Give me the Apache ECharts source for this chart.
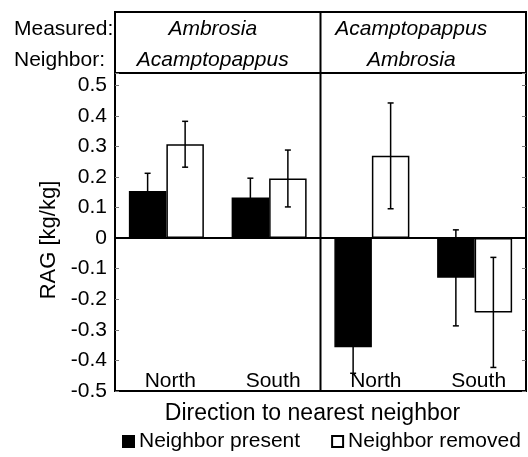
<!DOCTYPE html>
<html><head><meta charset="utf-8">
<script src="https://cdn.jsdelivr.net/npm/echarts@6/dist/echarts.min.js"></script>
<style>html,body{margin:0;padding:0;background:#fff}#c{width:528px;height:457px}</style>
</head><body><div id="c"></div>
<script>
// ---- data ----
const categories = ['North', 'South', 'North', 'South'];
const seriesNames = ['Neighbor present', 'Neighbor removed'];
const present = [0.154, 0.133, -0.357, -0.130];
const presentErr = [0.058, 0.063, 0.085, 0.157];
const removed = [0.307, 0.195, 0.269, -0.243];
const removedErr = [0.075, 0.093, 0.173, 0.180];
const headerRowLabels = ['Measured:', 'Neighbor:'];
const measuredSpecies = ['Ambrosia', 'Acamptopappus'];
const neighborSpecies = ['Acamptopappus', 'Ambrosia'];
const yMin = -0.5, yMax = 0.54, yStep = 0.1;

const FONT = "'Liberation Sans', Arial, sans-serif";
const GRID = { left: 115, right: 2, top: 73, bottom: 66 };
const BAR_FRAC = 0.365;

const chart = echarts.init(document.getElementById('c'), null, { renderer: 'canvas' });

function errSeries(name, vals, errs, side) {
  return {
    name: name + ' err',
    type: 'custom',
    z: 5,
    silent: true,
    data: vals.map((v, i) => [i, v, errs[i]]),
    encode: { x: 0, y: 1 },
    renderItem: function (params, api) {
      const i = api.value(0), v = api.value(1), e = api.value(2);
      const band = api.size([1, 0])[0];
      const off = side * band * BAR_FRAC / 2;
      const hi = api.coord([i, v + e]);
      const lo = api.coord([i, v - e]);
      const x = hi[0] + off;
      const cap = 3;
      const st = { stroke: '#000', lineWidth: 1.5 };
      return {
        type: 'group',
        children: [
          { type: 'line', shape: { x1: x, y1: hi[1], x2: x, y2: lo[1] }, style: st },
          { type: 'line', shape: { x1: x - cap, y1: hi[1], x2: x + cap, y2: hi[1] }, style: st },
          { type: 'line', shape: { x1: x - cap, y1: lo[1], x2: x + cap, y2: lo[1] }, style: st }
        ]
      };
    }
  };
}

const yLabelFmt = v => (v > 0.51 ? '' : (Math.abs(v) < 1e-9 ? '0' : v.toFixed(1)));

chart.setOption({
  animation: false,
  textStyle: { fontFamily: FONT, color: '#000' },
  grid: Object.assign({ show: true, borderColor: '#000', borderWidth: 2, backgroundColor: 'transparent' }, GRID),
  legend: {
    data: seriesNames,
    left: 117, top: 426,
    itemWidth: 11, itemHeight: 11, itemGap: 31,
    icon: 'rect',
    textStyle: { fontSize: 21, color: '#000', fontFamily: FONT },
    selectedMode: false
  },
  xAxis: {
    type: 'category',
    data: categories,
    axisLine: { show: false },
    axisTick: { show: false },
    axisLabel: { inside: true, margin: -1, fontSize: 21, color: '#000', fontFamily: FONT, padding: [0, 0, 0, 8] },
    name: 'Direction to nearest neighbor',
    nameLocation: 'middle',
    nameGap: 11,
    nameTextStyle: { fontSize: 23, color: '#000', fontFamily: FONT, padding: [0, 16, 0, 0] }
  },
  yAxis: [{
    type: 'value', min: yMin, max: yMax, interval: yStep,
    axisLine: { show: false },
    axisTick: { show: true, inside: true, length: 4, lineStyle: { color: '#777', width: 1 } },
    splitLine: { show: false },
    axisLabel: { fontSize: 21, color: '#000', margin: 8, formatter: yLabelFmt, fontFamily: FONT },
    name: 'RAG [kg/kg]',
    nameLocation: 'middle',
    nameGap: 46,
    nameTextStyle: { fontSize: 22, color: '#000', fontFamily: FONT, padding: [0, 16, 0, 0] }
  }, {
    type: 'value', min: yMin, max: yMax, interval: yStep, position: 'right',
    axisLine: { show: false },
    axisTick: { show: true, inside: true, length: 4, lineStyle: { color: '#777', width: 1 } },
    splitLine: { show: false },
    axisLabel: { show: false }
  }],
  series: [{
    name: seriesNames[0], type: 'bar', data: present,
    barWidth: (BAR_FRAC * 100) + '%', barGap: '0%',
    itemStyle: { color: '#000', borderColor: '#000', borderWidth: 1.5 },
    markLine: {
      silent: true, symbol: 'none', label: { show: false },
      lineStyle: { color: '#000', type: 'solid', width: 2 },
      data: [{ yAxis: 0 }]
    }
  }, {
    name: seriesNames[1], type: 'bar', data: removed,
    barWidth: (BAR_FRAC * 100) + '%', barGap: '0%',
    itemStyle: { color: '#fff', borderColor: '#000', borderWidth: 1.5 }
  },
  errSeries(seriesNames[0], present, presentErr, -1),
  errSeries(seriesNames[1], removed, removedErr, 1)
  ]
});

// header box & divider, positioned from the axes
const W = chart.getWidth(), H = chart.getHeight();
const gl = GRID.left, gr = W - GRID.right, gt = GRID.top, gb = H - GRID.bottom;
const divX = (chart.convertToPixel({ xAxisIndex: 0 }, 1) + chart.convertToPixel({ xAxisIndex: 0 }, 2)) / 2;
const headTop = 12;
const rowY = [29, 60];
const halfCenters = [(gl + divX) / 2 - 5, (divX + gr) / 2 - 12];
const txt = (x, y, s, italic, align) => ({
  type: 'text', x: x, y: y,
  style: { text: s, fontSize: 21, fontFamily: FONT, fontStyle: italic ? 'italic' : 'normal', fill: '#000', align: align, verticalAlign: 'middle' }
});
const g = [
  { type: 'rect', shape: { x: gl, y: headTop, width: gr - gl, height: gt - headTop }, style: { fill: 'none', stroke: '#000', lineWidth: 2 } },
  { type: 'line', shape: { x1: divX, y1: headTop, x2: divX, y2: gb }, style: { stroke: '#000', lineWidth: 2 } },
  txt(14, rowY[0], headerRowLabels[0], false, 'left'),
  txt(14, rowY[1], headerRowLabels[1], false, 'left')
];
for (let k = 0; k < 2; k++) {
  g.push(txt(halfCenters[k], rowY[0], measuredSpecies[k], true, 'center'));
  g.push(txt(halfCenters[k], rowY[1], neighborSpecies[k], true, 'center'));
}
chart.setOption({ graphic: g });
</script>
</body></html>
